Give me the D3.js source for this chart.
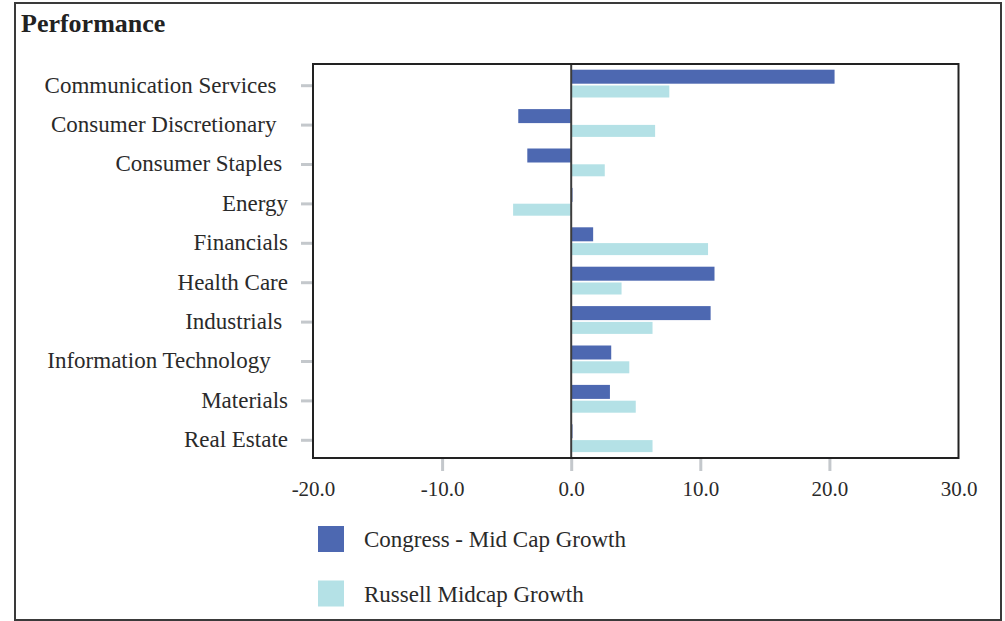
<!DOCTYPE html>
<html>
<head>
<meta charset="utf-8">
<script src="https://cdn.jsdelivr.net/npm/d3@7/dist/d3.min.js"></script>
<style>
  html, body { margin: 0; padding: 0; background: #fff; }
  svg { display: block; font-family: "Liberation Serif", "DejaVu Serif", serif; }
  .lbl { white-space: pre; }
</style>
</head>
<body>
<svg id="chart" width="1005" height="621"></svg>
<script>
// ---- data ----
const categories = [
  "Communication Services  ",
  "Consumer Discretionary  ",
  "Consumer Staples ",
  "Energy",
  "Financials",
  "Health Care",
  "Industrials ",
  "Information Technology   ",
  "Materials",
  "Real Estate"
];
const seriesNames = ["Congress - Mid Cap Growth", "Russell Midcap Growth"];
const congressValues = [20.4, -4.1, -3.4, 0.1, 1.7, 11.1, 10.8, 3.1, 3.0, 0.1];
const russellValues  = [7.6, 6.5, 2.6, -4.5, 10.6, 3.9, 6.3, 4.5, 5.0, 6.3];
const xTickValues = [-20, -10, 0, 10, 20, 30];
const titleText = "Performance";

// ---- build ----
const colors = ["#4d68b1", "#b4e1e6"];
const svg = d3.select("#chart");

// outer frame
svg.append("rect")
  .attr("x", 15).attr("y", 3).attr("width", 986).attr("height", 617)
  .attr("fill", "none").attr("stroke", "#3a3a3a").attr("stroke-width", 2);

svg.append("text")
  .attr("x", 21).attr("y", 32)
  .attr("font-size", 26).attr("font-weight", "bold").attr("fill", "#222")
  .text(titleText);

const plot = { left: 313, right: 958.5, top: 64, bottom: 458 };

const x = d3.scaleLinear().domain([-20, 30]).range([plot.left, plot.right]);
const y = d3.scaleBand().domain(categories).range([plot.top, plot.bottom]).padding(0);

// y axis ticks & labels
const yAxis = d3.axisLeft(y).tickSize(12).tickPadding(13);
const gy = svg.append("g").attr("transform", `translate(${plot.left},2)`).call(yAxis);
gy.select(".domain").remove();
gy.selectAll(".tick line").attr("stroke", "#c4c8cc").attr("stroke-width", 3);
gy.selectAll(".tick text")
  .attr("class", "lbl")
  .attr("font-size", 23).attr("fill", "#2a2a2a")
  .attr("font-family", "Liberation Serif, serif")
  .attr("dy", "0.3em");

// x axis
const xAxis = d3.axisBottom(x).tickValues(xTickValues).tickSize(12).tickFormat(d => d.toFixed(1));
const gx = svg.append("g").attr("transform", `translate(0,${plot.bottom + 1})`).call(xAxis);
gx.select(".domain").remove();
gx.selectAll(".tick line")
  .attr("stroke", "#c4c8cc").attr("stroke-width", 3)
  .attr("display", d => (d === -20 || d === 30) ? "none" : null);
gx.selectAll(".tick text")
  .attr("y", 37).attr("dy", 0)
  .attr("font-size", 21).attr("fill", "#2a2a2a")
  .attr("font-family", "Liberation Serif, serif");

// bars
const bh = y.bandwidth();
const barG = svg.append("g");
barG.selectAll("rect.c").data(categories).join("rect")
  .attr("class", "c")
  .attr("x", (d, i) => x(Math.min(0, congressValues[i])))
  .attr("width", (d, i) => Math.abs(x(congressValues[i]) - x(0)))
  .attr("y", d => y(d) + bh / 2 - 14)
  .attr("height", 14)
  .attr("fill", colors[0]);
barG.selectAll("rect.r").data(categories).join("rect")
  .attr("class", "r")
  .attr("x", (d, i) => x(Math.min(0, russellValues[i])))
  .attr("width", (d, i) => Math.abs(x(russellValues[i]) - x(0)))
  .attr("y", d => y(d) + bh / 2 + 1.8)
  .attr("height", 12)
  .attr("fill", colors[1]);

// zero line
svg.append("line")
  .attr("x1", x(0)).attr("x2", x(0))
  .attr("y1", plot.top).attr("y2", plot.bottom)
  .attr("stroke", "#3c3c3c").attr("stroke-width", 2);

// plot border
svg.append("rect")
  .attr("x", plot.left).attr("y", plot.top)
  .attr("width", plot.right - plot.left).attr("height", plot.bottom - plot.top)
  .attr("fill", "none").attr("stroke", "#222").attr("stroke-width", 2);

// legend
const lg = svg.append("g");
seriesNames.forEach((name, i) => {
  lg.append("rect")
    .attr("x", 318).attr("y", 526 + i * 54.5)
    .attr("width", 26).attr("height", 26)
    .attr("fill", colors[i]);
  lg.append("text")
    .attr("x", 364).attr("y", 547 + i * 55)
    .attr("font-size", 23).attr("fill", "#2a2a2a")
    .text(name);
});
</script>
</body>
</html>
